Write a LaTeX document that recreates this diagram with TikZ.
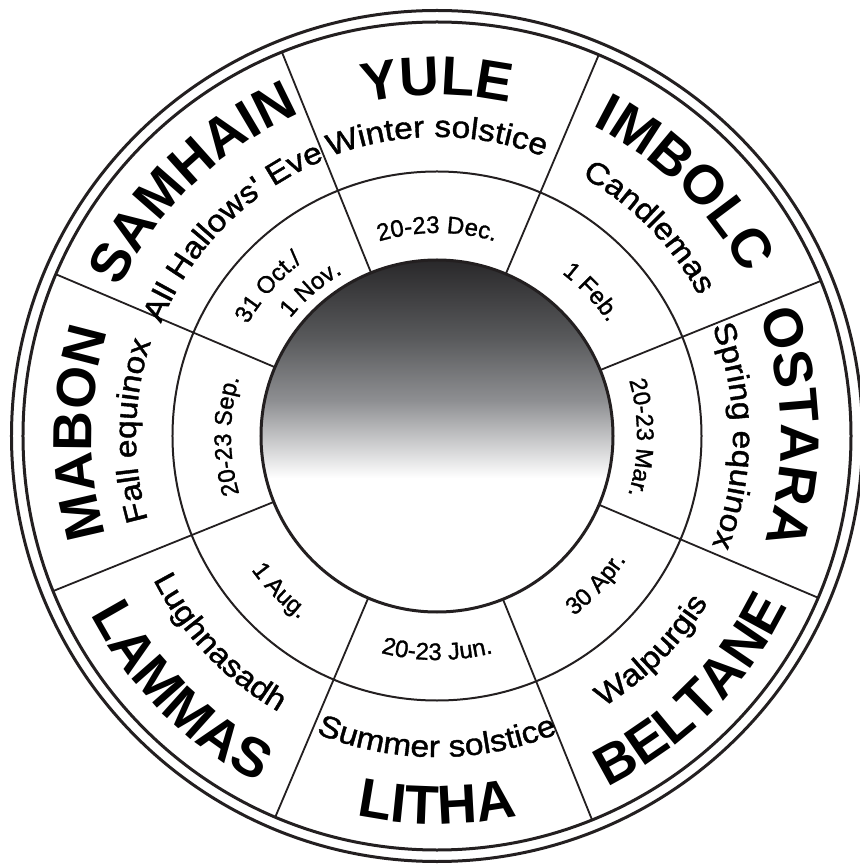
\documentclass[tikz,border=0pt]{standalone}
\usepackage{fontspec}
\setmainfont{Liberation Sans}
\newfontfamily\epithetfamily{Liberation Sans}[FakeStretch=1.1, FakeBold=1.3]
\newfontfamily\datesfamily{Liberation Sans}[FakeBold=1.2]
\usepackage{xcolor}
\usepackage{tikz}
\usetikzlibrary{decorations.text}
\definecolor{ink}{HTML}{231F20}
\definecolor{hubtop}{HTML}{29282A}
\definecolor{hubdeep}{HTML}{58595B}
\definecolor{hubmid}{HTML}{8E8F92}
\pgfdeclareverticalshading{hubshade}{100bp}{color(0bp)=(white); color(44bp)=(white);
  color(55bp)=(hubmid); color(64bp)=(hubdeep); color(75bp)=(hubtop); color(100bp)=(hubtop)}
\newcommand\namefont{\fontsize{55}{60}\selectfont\bfseries}
\newcommand\epithetfont{\epithetfamily\fontsize{30.5}{34}\selectfont}
\newcommand\datesfont{\datesfamily\fontsize{24}{28}\selectfont}
\tikzset{
  rimline/.style  = {circle, draw=ink, line width=3pt, inner sep=0pt, outer sep=0pt},
  ringline/.style = {circle, draw=ink, line width=2pt, inner sep=0pt, outer sep=0pt},
  hubdisk/.style  = {circle, draw=ink, line width=3pt, inner sep=0pt, outer sep=0pt,
                     shade, shading=hubshade, minimum size=352pt},
  spoke/.style    = {draw=ink, line width=1.8pt},
  arctext/.style  = {decorate, decoration={text along path, text align=center, text={#1}}},
}
\begin{document}
\begin{tikzpicture}[x=1pt, y=1pt]
  \useasboundingbox (-437,-428) rectangle (422,436);

  % rims and rings
  \node[rimline, minimum size=851pt] (rimout) at (0,0) {};
  \node[rimline, minimum size=828pt] (rim) at (0,0) {};
  \node[ringline, minimum size=529pt] (ring) at (0,0) {};
  \node[hubdisk] (hub) at (0,0) {};

  % spokes
  \draw[spoke] (hub.22.5) -- (rim.22.5);
  \draw[spoke] (hub.67.5) -- (rim.67.5);
  \draw[spoke] (hub.112.5) -- (rim.112.5);
  \draw[spoke] (hub.157.5) -- (rim.157.5);
  \draw[spoke] (hub.202.5) -- (rim.202.5);
  \draw[spoke] (hub.247.5) -- (rim.247.5);
  \draw[spoke] (hub.292.5) -- (rim.292.5);
  \draw[spoke] (hub.337.5) -- (rim.337.5);

  % sabbat names, upper half clockwise
  \path[arctext={|\namefont|YULE}] (150:341) arc[start angle=150, end angle=30, radius=341];
  \path[arctext={|\namefont|IMBOLC}] (105.5:347) arc[start angle=105.5, end angle=-14.5, radius=347];
  \path[arctext={|\namefont|OSTARA}] (61.5:344) arc[start angle=61.5, end angle=-58.5, radius=344];
  \path[arctext={|\namefont|MABON}] (239.5:345) arc[start angle=239.5, end angle=119.5, radius=345];
  \path[arctext={|\namefont|SAMHAIN}] (194:350) arc[start angle=194, end angle=74, radius=350];
  % sabbat names, lower half counter-clockwise
  \path[arctext={|\namefont|BELTANE}] (-105:390) arc[start angle=-105, end angle=15, radius=390];
  \path[arctext={|\namefont|LITHA}] (-150:388) arc[start angle=-150, end angle=-30, radius=388];
  \path[arctext={|\namefont|LAMMAS}] (-195:390) arc[start angle=-195, end angle=-75, radius=390];

  % other names
  \path[arctext={|\epithetfont|Winter solstice}] (150:299) arc[start angle=150, end angle=30, radius=299];
  \path[arctext={|\epithetfont|Candlemas}] (104.5:297) arc[start angle=104.5, end angle=-15.5, radius=297];
  \path[arctext={|\epithetfont|Spring equinox}] (60:296) arc[start angle=60, end angle=-60, radius=296];
  \path[arctext={|\epithetfont|Fall equinox}] (239:301) arc[start angle=239, end angle=119, radius=301];
  \path[arctext={|\epithetfont|All Hallows' Eve}] (195:298) arc[start angle=195, end angle=75, radius=298];
  \path[arctext={|\epithetfont|Walpurgis}] (-105:318) arc[start angle=-105, end angle=15, radius=318];
  \path[arctext={|\epithetfont|Summer solstice}] (-150:321) arc[start angle=-150, end angle=-30, radius=321];
  \path[arctext={|\epithetfont|Lughnasadh}] (-196.5:318) arc[start angle=-196.5, end angle=-76.5, radius=318];

  % dates
  \path[arctext={|\datesfont|20-23 Dec.}] (150:203) arc[start angle=150, end angle=30, radius=203];
  \path[arctext={|\datesfont|1 Feb.}] (103:205) arc[start angle=103, end angle=-17, radius=205];
  \path[arctext={|\datesfont|20-23 Mar.}] (59.5:200) arc[start angle=59.5, end angle=-60.5, radius=200];
  \path[arctext={|\datesfont|20-23 Sep.}] (240:206) arc[start angle=240, end angle=120, radius=206];
  \path[arctext={|\datesfont|31 Oct./}] (198.6:220) arc[start angle=198.6, end angle=78.6, radius=220];
  \path[arctext={|\datesfont|1 Nov.}] (190.7:188) arc[start angle=190.7, end angle=70.7, radius=188];
  \path[arctext={|\datesfont|30 Apr.}] (-103:226) arc[start angle=-103, end angle=17, radius=226];
  \path[arctext={|\datesfont|20-23 Jun.}] (-150:224) arc[start angle=-150, end angle=-30, radius=224];
  \path[arctext={|\datesfont|1 Aug.}] (-195.5:229) arc[start angle=-195.5, end angle=-75.5, radius=229];

\end{tikzpicture}
\end{document}
